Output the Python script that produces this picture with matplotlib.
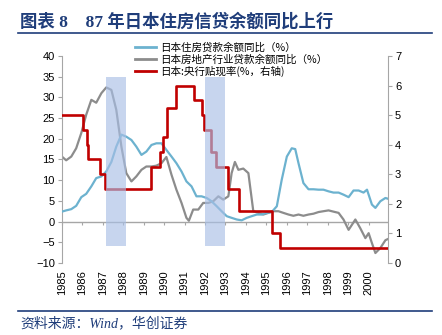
import matplotlib
matplotlib.use('Agg')
import matplotlib.pyplot as plt
from matplotlib.patches import Rectangle
from matplotlib.lines import Line2D

plt.rcParams['font.family'] = ['Liberation Sans', 'Noto Sans CJK SC', 'DejaVu Sans']

# 日本住房贷款余额同比 (%)
house_x = [1985.00, 1985.21, 1985.46, 1985.70, 1985.95, 1986.19, 1986.44, 1986.68, 1986.93,
           1987.17, 1987.42, 1987.66, 1987.91, 1988.15, 1988.40, 1988.64, 1988.89, 1989.13,
           1989.38, 1989.62, 1989.87, 1990.11, 1990.36, 1990.60, 1990.85, 1991.09, 1991.34,
           1991.58, 1991.83, 1992.08, 1992.32, 1992.57, 1992.81, 1993.06, 1993.30, 1993.55,
           1993.79, 1994.04, 1994.28, 1994.53, 1994.77, 1995.02, 1995.26, 1995.51, 1995.75,
           1996.00, 1996.24, 1996.41, 1996.57, 1996.81, 1997.06, 1997.30, 1997.55, 1997.79,
           1998.04, 1998.28, 1998.53, 1998.77, 1999.02, 1999.26, 1999.51, 1999.75, 1999.92,
           2000.16, 2000.33, 2000.57, 2000.82, 2000.95]
house_y = [2.4, 2.7, 3.0, 3.8, 5.9, 6.7, 8.5, 10.5, 10.9,
           12.1, 14.4, 18.1, 21.0, 20.5, 19.7, 18.1, 16.1, 16.9,
           18.5, 18.9, 18.9, 17.3, 15.7, 14.1, 12.1, 9.7, 8.5,
           6.1, 6.1, 5.7, 4.9, 3.7, 2.5, 1.3, 0.9, 0.5,
           0.3, 0.9, 1.3, 1.7, 1.7, 2.1, 2.3, 3.7, 10.1,
           15.7, 17.7, 17.5, 14.1, 9.3, 7.8, 7.8, 7.7, 7.7,
           7.3, 7.0, 7.0, 6.5, 5.9, 7.5, 7.5, 7.0, 7.7,
           4.1, 3.3, 4.9, 5.7, 5.5]

# 日本房地产行业贷款余额同比 (%)
estate_x = [1985.00, 1985.21, 1985.46, 1985.70, 1985.95, 1986.19, 1986.44, 1986.68, 1986.93,
            1987.17, 1987.42, 1987.66, 1987.91, 1988.15, 1988.40, 1988.64, 1988.89, 1989.13,
            1989.38, 1989.62, 1989.87, 1990.11, 1990.36, 1990.60, 1990.85, 1991.09, 1991.21,
            1991.42, 1991.67, 1991.91, 1992.16, 1992.40, 1992.65, 1992.89, 1993.14, 1993.30,
            1993.46, 1993.63, 1993.87, 1994.12, 1994.36, 1994.61, 1994.85, 1995.10, 1995.34,
            1995.59, 1995.83, 1996.08, 1996.32, 1996.57, 1996.81, 1997.06, 1997.30, 1997.55,
            1997.79, 1998.04, 1998.28, 1998.53, 1998.77, 1999.02, 1999.18, 1999.35, 1999.59,
            1999.84, 2000.00, 2000.16, 2000.33, 2000.57, 2000.82, 2000.95]
estate_y = [15.7, 14.8, 15.7, 17.7, 21.4, 25.8, 29.4, 28.7, 31.0,
            32.4, 31.8, 27.0, 18.1, 11.7, 9.7, 10.9, 12.5, 13.3,
            13.3, 13.5, 14.1, 15.6, 11.3, 7.7, 4.5, 0.9, 0.2,
            2.9, 2.9, 4.5, 4.5, 4.9, 6.1, 5.3, 6.1, 11.7,
            14.4, 12.5, 12.8, 11.7, 2.5, 2.1, 1.7, 2.1, 2.5,
            2.5, 2.1, 1.7, 1.4, 1.7, 1.4, 1.7, 1.9, 2.3,
            2.5, 2.7, 2.4, 2.1, 0.5, -2.0, -0.8, 0.5, -1.6,
            -4.0, -2.8, -5.2, -7.6, -6.4, -4.5, -4.2]

# 日本:央行贴现率 (%, 右轴), value holds from each date on
rate_x = [1985.00, 1986.03, 1986.22, 1986.28, 1986.85, 1987.12, 1989.38, 1989.79, 1989.95,
          1990.16, 1990.56, 1991.47, 1991.83, 1991.96, 1992.27, 1992.53, 1993.14, 1993.68,
          1995.26, 1995.67, 2000.95]
rate_y = [5.0, 4.5, 4.0, 3.5, 3.0, 2.5, 3.25, 3.75, 4.25,
          5.25, 6.0, 5.5, 5.0, 4.5, 3.75, 3.25, 2.5, 1.75,
          1.0, 0.5, 0.5]

# shaded periods (left-axis units)
band_start = [1987.14, 1991.98]
band_end = [1988.12, 1992.96]
band_low = -6
band_high = 35

years = list(range(1985, 2001))
left_ticks = [-10, -5, 0, 5, 10, 15, 20, 25, 30, 35, 40]
right_ticks = [0, 1, 2, 3, 4, 5, 6, 7]

labels = ['日本住房贷款余额同比（%）', '日本房地产行业贷款余额同比（%）', '日本:央行贴现率(%，右轴)']
c_house = '#6cb2cf'
c_estate = '#8c8c8c'
c_rate = '#c00000'
c_band = '#a9bfe6'
c_axis = '#a6a6a6'
c_navy = '#1f3d7a'

fig = plt.figure(figsize=(4.42, 3.35), dpi=100)
ax = fig.add_axes([0.140, 0.215, 0.738, 0.618])
ax2 = ax.twinx()

ax.plot(house_x, house_y, color=c_house, lw=1.6, zorder=3)
ax.plot(estate_x, estate_y, color=c_estate, lw=1.6, zorder=2)
ax2.step(rate_x, rate_y, where='post', color=c_rate, lw=1.9, zorder=3)

for s, e in zip(band_start, band_end):
    ax2.add_patch(Rectangle((s, band_low), e - s, band_high - band_low,
                            transform=ax.transData, facecolor=c_band, alpha=0.65,
                            edgecolor='none', zorder=5))

ax.set_xlim(1985, 2000.95)
ax.set_ylim(-10, 40)
ax2.set_ylim(0, 7)
ax.set_yticks(left_ticks)
ax2.set_yticks(right_ticks)
ax.set_xticks(years)
ax.set_xticklabels([str(y) for y in years], rotation=90)

for a in (ax, ax2):
    for sp in ('top', 'bottom'):
        a.spines[sp].set_visible(False)
    a.spines['left'].set_color(c_axis)
    a.spines['right'].set_color(c_axis)
ax.spines['right'].set_visible(False)
ax2.spines['left'].set_visible(False)

ax.tick_params(axis='y', labelsize=8, length=3, color=c_axis, pad=2)
ax2.tick_params(axis='y', labelsize=8, length=3, color=c_axis, pad=2)
ax.tick_params(axis='x', labelsize=8, length=0, pad=5)

# zero line with year ticks
ax.axhline(0, color=c_axis, lw=1.0, zorder=1)
zx = ax.secondary_xaxis(0.2)
zx.set_xticks(years)
zx.tick_params(axis='x', length=2.5, color=c_axis, labelbottom=False)
zx.spines['bottom'].set_visible(False)

handles = [Line2D([], [], color=c_house, lw=2),
           Line2D([], [], color=c_estate, lw=2),
           Line2D([], [], color=c_rate, lw=2)]
fig.legend(handles, labels, loc='upper left', bbox_to_anchor=(0.295, 0.885),
           frameon=False, handlelength=2.0, handletextpad=0.4,
           labelspacing=0.1, borderaxespad=0,
           prop={'family': ['Noto Sans CJK SC', 'DejaVu Sans'], 'size': 7.6})

# title and source
fig.text(0.045, 0.935, '图表 8    87 年日本住房信贷余额同比上行', fontsize=12.5,
         fontweight='bold', color=c_navy,
         family=['Liberation Serif', 'Noto Sans CJK SC'], va='center')
fig.add_artist(Line2D([0.04, 0.978], [0.902, 0.902], color=c_navy, lw=1.2))
fig.add_artist(Line2D([0.04, 0.978], [0.071, 0.071], color=c_navy, lw=1.2))
fig.text(0.045, 0.034, '资料来源：Wind，华创证券', fontsize=10, style='italic',
         color=c_navy, family=['Liberation Serif', 'Noto Sans CJK SC'], va='center')

plt.savefig('out.png', dpi=100)
